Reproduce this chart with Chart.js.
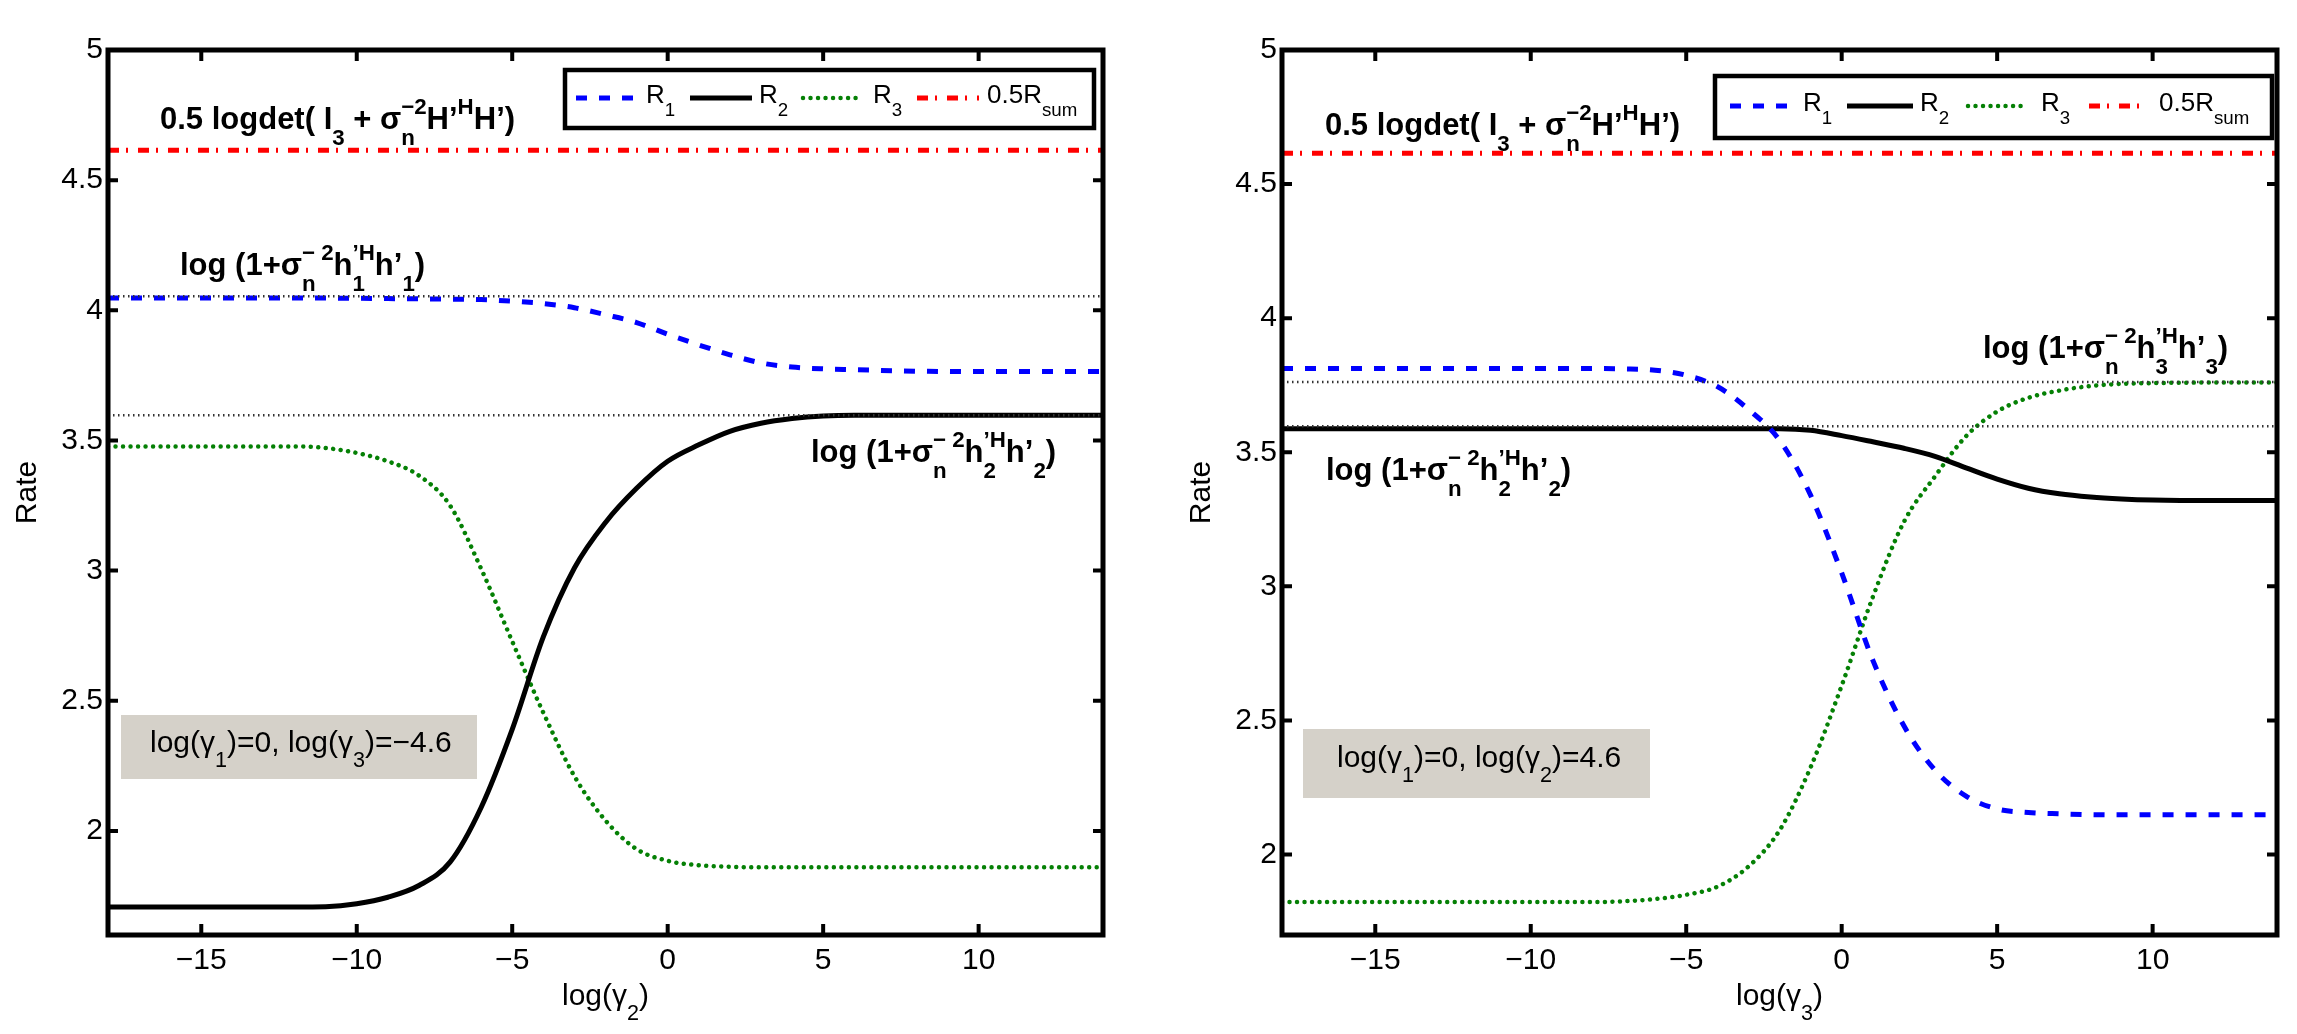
<!DOCTYPE html>
<html><head><meta charset="utf-8">
<script src="https://cdn.jsdelivr.net/npm/chart.js@4"></script>
<style>
html,body{margin:0;padding:0;background:#fff;width:2297px;height:1034px;overflow:hidden}
.panel{position:absolute;top:0;width:1123px;height:1034px}
#p1{left:0}#p2{left:1174px}
</style></head><body>
<div class="panel" id="p1"><canvas id="c1" width="1123" height="1034"></canvas></div>
<div class="panel" id="p2"><canvas id="c2" width="1123" height="1034"></canvas></div>
<script>
// ---------- data ----------
const xTicks = [-15, -10, -5, 0, 5, 10];
const yTicks = [2, 2.5, 3, 3.5, 4, 4.5, 5];
const xRange = [-18, 14];

// left panel: x = log(gamma2)
const xLeft  = [-18,-16,-14,-12,-11,-10,-9,-8,-7,-6,-5,-4,-3,-2,-1,0,1,2,3,4,5,6,8,10,12,14];
const r1Left = [4.047,4.047,4.047,4.047,4.047,4.046,4.045,4.044,4.043,4.041,4.035,4.026,4.010,3.983,3.953,3.908,3.867,3.829,3.798,3.782,3.775,3.772,3.766,3.765,3.765,3.765];
const r2Left = [1.708,1.708,1.708,1.708,1.709,1.720,1.745,1.790,1.880,2.090,2.390,2.745,3.010,3.185,3.316,3.420,3.483,3.535,3.566,3.584,3.594,3.597,3.597,3.597,3.597,3.597];
const r3Left = [3.477,3.477,3.477,3.477,3.471,3.452,3.420,3.365,3.250,3.007,2.728,2.454,2.210,2.040,1.930,1.885,1.868,1.862,1.860,1.860,1.860,1.860,1.860,1.860,1.860,1.860];
const halfSumLeft = 4.615;
const refLeft = [4.054, 3.597];   // log(1+..h1), log(1+..h2)

// right panel: x = log(gamma3)
const xRight  = [-18,-16,-14,-12,-10,-8,-7,-6,-5,-4,-3,-2,-1,0,1,2,3,4,5,6,7,8,9,10,12,14];
const r1Right = [3.812,3.812,3.812,3.812,3.812,3.812,3.811,3.806,3.787,3.745,3.660,3.545,3.340,3.050,2.725,2.480,2.315,2.218,2.170,2.157,2.152,2.149,2.148,2.148,2.148,2.148];
const r2Right = [3.588,3.588,3.588,3.588,3.588,3.588,3.588,3.588,3.588,3.588,3.588,3.588,3.582,3.562,3.539,3.515,3.485,3.442,3.400,3.366,3.345,3.333,3.326,3.322,3.320,3.320];
const r3Right = [1.823,1.823,1.823,1.823,1.823,1.823,1.826,1.834,1.850,1.880,1.955,2.090,2.325,2.630,2.960,3.240,3.410,3.560,3.652,3.703,3.730,3.747,3.755,3.758,3.760,3.760];
const halfSumRight = 4.615;
const refRight = [3.762, 3.597];  // log(1+..h3), log(1+..h2)

const yMinLeft = 1.6, yMinRight = 1.7, yMax = 5;

// ---------- helpers ----------
const FAM = '"Liberation Sans", Arial, Helvetica, sans-serif';
const fnt = (s, b) => (b ? 'bold ' : '') + s + 'px ' + FAM;
function richWidth(ctx, segs, size, bold) {
  let w = 0; const ss = size * 0.72;
  for (const s of segs) {
    if (s.t != null) { ctx.font = fnt(size, bold); w += ctx.measureText(s.t).width; }
    else { ctx.font = fnt(ss, bold); let m = 0;
      if (s.sub) m = Math.max(m, ctx.measureText(s.sub).width);
      if (s.sup) m = Math.max(m, ctx.measureText(s.sup).width);
      w += m; }
  }
  return w;
}
function drawRich(ctx, segs, x, y, size, bold, center) {
  ctx.save();
  ctx.textBaseline = 'alphabetic'; ctx.textAlign = 'left'; ctx.fillStyle = '#000';
  if (center) x -= richWidth(ctx, segs, size, bold) / 2;
  const ss = size * 0.72; let cx = x;
  for (const s of segs) {
    if (s.t != null) { ctx.font = fnt(size, bold); ctx.fillText(s.t, cx, y); cx += ctx.measureText(s.t).width; }
    else { ctx.font = fnt(ss, bold); let m = 0;
      if (s.sub) { ctx.fillText(s.sub, cx, y + size * 0.5); m = Math.max(m, ctx.measureText(s.sub).width); }
      if (s.sup) { ctx.fillText(s.sup, cx, y - size * 0.5); m = Math.max(m, ctx.measureText(s.sup).width); }
      cx += m; }
  }
  ctx.restore();
}
const logdetSegs = [{t:'0.5 logdet( I'},{sub:'3'},{t:' + σ'},{sub:'n',sup:'−2'},{t:'H’'},{sup:'H'},{t:'H’)'}];
const hSegs = k => [{t:'log (1+σ'},{sub:'n',sup:'− 2'},{t:'h'},{sub:k,sup:'’H'},{t:'h’'},{sub:k},{t:')'}];
const fmtTick = v => (v < 0 ? '\u2212' + Math.abs(v) : String(v));
const NOTE_SIZE = 31;

function makePanel(id, p) {
  const pts = (xs, ys) => xs.map((x, i) => ({x: x, y: ys[i]}));
  const flat = v => [{x: xRange[0], y: v}, {x: xRange[1], y: v}];
  const overlay = {
    id: 'overlay' + id,
    afterDatasetsDraw(chart) {
      const ctx = chart.ctx;
      ctx.save(); ctx.fillStyle = '#d5d1c9';
      ctx.fillRect(p.box.x, p.box.y, p.box.w, p.box.h); ctx.restore();
      drawRich(ctx, p.box.segs, p.box.tx, p.box.ty, 30, false, false);
      for (const a of p.notes) drawRich(ctx, a.segs, a.x, a.y, NOTE_SIZE, true, false);
    },
    afterDraw(chart) {
      const ctx = chart.ctx, ca = chart.chartArea;
      const xs = chart.scales.x, ys = chart.scales.y;
      ctx.save();
      ctx.strokeStyle = '#000'; ctx.lineWidth = 5; ctx.setLineDash([]);
      ctx.strokeRect(ca.left, ca.top, ca.right - ca.left, ca.bottom - ca.top);
      ctx.lineWidth = 4; ctx.beginPath();
      for (const t of xs.ticks) { const px = xs.getPixelForValue(t.value);
        ctx.moveTo(px, ca.bottom); ctx.lineTo(px, ca.bottom - 11);
        ctx.moveTo(px, ca.top); ctx.lineTo(px, ca.top + 11); }
      for (const t of ys.ticks) { const py = ys.getPixelForValue(t.value);
        if (py <= ca.top + 3) continue;
        ctx.moveTo(ca.left, py); ctx.lineTo(ca.left + 10, py);
        ctx.moveTo(ca.right, py); ctx.lineTo(ca.right - 10, py); }
      ctx.stroke();
      const L = p.legend;
      ctx.fillStyle = '#fff'; ctx.fillRect(L.x, L.y, L.w, L.h);
      ctx.lineWidth = 4.5; ctx.strokeRect(L.x, L.y, L.w, L.h);
      L.items.forEach(it => {
        const ds = chart.data.datasets[it.ds];
        ctx.save();
        ctx.strokeStyle = ds.borderColor; ctx.lineWidth = ds.borderWidth;
        ctx.setLineDash(ds.borderDash || []); ctx.lineCap = ds.borderCapStyle || 'butt';
        ctx.beginPath(); ctx.moveTo(it.x0, L.sy); ctx.lineTo(it.x1, L.sy); ctx.stroke();
        ctx.restore();
        drawRich(ctx, it.segs, it.tx, L.ty, 26, false, false);
      });
      ctx.restore();
      drawRich(ctx, p.xTitle, (ca.left + ca.right) / 2, 1005, 30, false, true);
    }
  };
  return new Chart(document.getElementById(id), {
    type: 'line',
    data: { datasets: [
      {label: 'ref a', data: flat(p.ref[0]), borderColor: '#333333', borderWidth: 2.5, borderDash: [1.5, 3.5], pointRadius: 0},
      {label: 'ref b', data: flat(p.ref[1]), borderColor: '#333333', borderWidth: 2.5, borderDash: [1.5, 3.5], pointRadius: 0},
      {label: 'R1', data: pts(p.x, p.r1), borderColor: '#0000ff', borderWidth: 5, borderDash: [11, 12], pointRadius: 0, cubicInterpolationMode: 'monotone'},
      {label: 'R2', data: pts(p.x, p.r2), borderColor: '#000000', borderWidth: 5, pointRadius: 0, cubicInterpolationMode: 'monotone'},
      {label: 'R3', data: pts(p.x, p.r3), borderColor: '#058005', borderWidth: 4.5, borderDash: [0.01, 7.5], borderCapStyle: 'round', pointRadius: 0, cubicInterpolationMode: 'monotone'},
      {label: '0.5Rsum', data: flat(p.half), borderColor: '#ff0000', borderWidth: 5, borderDash: [11, 7, 2, 10], pointRadius: 0}
    ]},
    options: {
      responsive: false, animation: false, devicePixelRatio: 1,
      layout: {padding: {left: 0, top: 50, right: 20, bottom: 0}},
      plugins: {legend: {display: false}, tooltip: {enabled: false}, title: {display: false}},
      scales: {
        x: {type: 'linear', min: xRange[0], max: xRange[1],
          afterBuildTicks: s => { s.ticks = xTicks.map(v => ({value: v})); },
          afterFit: s => { s.height = 99; },
          grid: {display: false, drawTicks: false}, border: {display: false},
          ticks: {color: '#000', font: {family: FAM, size: 30}, padding: 8, autoSkip: false, maxRotation: 0, callback: v => fmtTick(v)}},
        y: {type: 'linear', min: p.yMin, max: yMax,
          afterBuildTicks: s => { s.ticks = yTicks.map(v => ({value: v})); },
          afterFit: s => { s.width = 108; },
          grid: {display: false, drawTicks: false}, border: {display: false},
          title: {display: true, text: 'Rate', color: '#000', font: {family: FAM, size: 30}, padding: {top: 10, bottom: 0}},
          ticks: {color: '#000', font: {family: FAM, size: 30}, padding: 5, autoSkip: false, callback: v => fmtTick(v)}}
      }
    },
    plugins: [overlay]
  });
}

makePanel('c1', {
  x: xLeft, r1: r1Left, r2: r2Left, r3: r3Left, half: halfSumLeft, ref: refLeft, yMin: yMinLeft,
  xTitle: [{t:'log(γ'},{sub:'2'},{t:')'}],
  box: {x: 121, y: 715, w: 356, h: 64, tx: 150, ty: 752, segs: [{t:'log(γ'},{sub:'1'},{t:')=0, log(γ'},{sub:'3'},{t:')=−4.6'}]},
  notes: [{segs: logdetSegs, x: 160, y: 129}, {segs: hSegs('1'), x: 180, y: 275}, {segs: hSegs('2'), x: 811, y: 462}],
  legend: {x: 565, y: 70, w: 529, h: 58, sy: 98, ty: 103, items: [
    {ds: 2, x0: 576, x1: 638, tx: 646, segs: [{t:'R'},{sub:'1'}]},
    {ds: 3, x0: 690, x1: 752, tx: 759, segs: [{t:'R'},{sub:'2'}]},
    {ds: 4, x0: 803, x1: 862, tx: 873, segs: [{t:'R'},{sub:'3'}]},
    {ds: 5, x0: 917, x1: 979, tx: 987, segs: [{t:'0.5R'},{sub:'sum'}]}]}
});
makePanel('c2', {
  x: xRight, r1: r1Right, r2: r2Right, r3: r3Right, half: halfSumRight, ref: refRight, yMin: yMinRight,
  xTitle: [{t:'log(γ'},{sub:'3'},{t:')'}],
  box: {x: 129, y: 729, w: 347, h: 69, tx: 163, ty: 767, segs: [{t:'log(γ'},{sub:'1'},{t:')=0, log(γ'},{sub:'2'},{t:')=4.6'}]},
  notes: [{segs: logdetSegs, x: 151, y: 135}, {segs: hSegs('3'), x: 809, y: 358}, {segs: hSegs('2'), x: 152, y: 480}],
  legend: {x: 541, y: 76, w: 557, h: 62, sy: 106, ty: 111, items: [
    {ds: 2, x0: 556, x1: 618, tx: 629, segs: [{t:'R'},{sub:'1'}]},
    {ds: 3, x0: 673, x1: 739, tx: 746, segs: [{t:'R'},{sub:'2'}]},
    {ds: 4, x0: 794, x1: 853, tx: 867, segs: [{t:'R'},{sub:'3'}]},
    {ds: 5, x0: 915, x1: 974, tx: 985, segs: [{t:'0.5R'},{sub:'sum'}]}]}
});
</script>
</body></html>
